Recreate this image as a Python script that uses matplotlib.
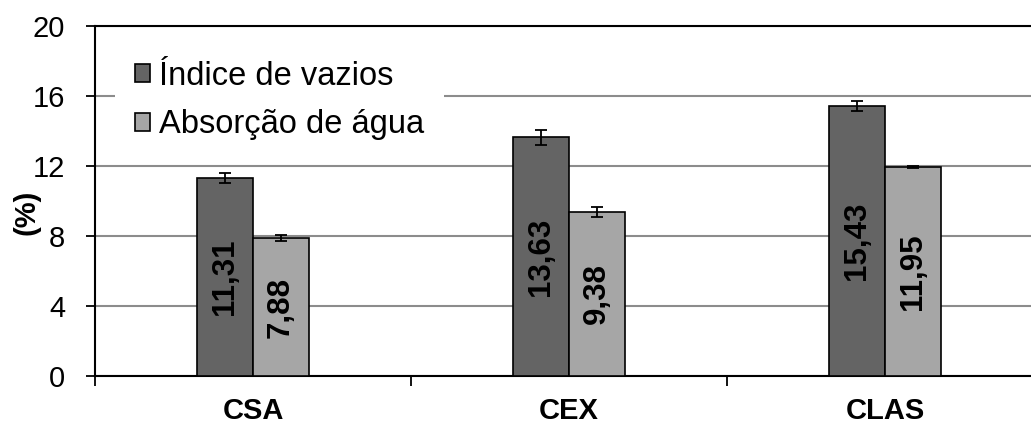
import matplotlib
matplotlib.use("Agg")
import matplotlib.pyplot as plt
import numpy as np

plt.rcParams['font.family'] = ['Liberation Sans', 'DejaVu Sans']

# data
grupos = ['CSA', 'CEX', 'CLAS']
indice_vazios = [11.31, 13.63, 15.43]
indice_err = [0.30, 0.45, 0.30]
absorcao = [7.88, 9.38, 11.95]
absorcao_err = [0.15, 0.30, 0.05]
rotulos_iv = ['11,31', '13,63', '15,43']
rotulos_ab = ['7,88', '9,38', '11,95']
yticks = [0, 4, 8, 12, 16, 20]

fig = plt.figure(figsize=(10.31, 4.26), dpi=100, facecolor='w')
ax = fig.add_axes([95/1031, 50/426, 948/1031, 350/426])

x = np.arange(len(grupos))
w = 0.177

ax.bar(x - w/2, indice_vazios, w, color='#646464', edgecolor='black', linewidth=1.2,
       label='Índice de vazios', zorder=3)
ax.bar(x + w/2, absorcao, w, color='#a6a6a6', edgecolor='black', linewidth=1.2,
       label='Absorção de água', zorder=3)
ax.errorbar(x - w/2, indice_vazios, yerr=indice_err, fmt='none', ecolor='black',
            elinewidth=1.3, capsize=4.2, capthick=1.3, zorder=4)
ax.errorbar(x + w/2, absorcao, yerr=absorcao_err, fmt='none', ecolor='black',
            elinewidth=1.3, capsize=4.2, capthick=1.3, zorder=4)

for xi, v, t in zip(x - w/2, indice_vazios, rotulos_iv):
    ax.text(xi, v/2, t, rotation=90, ha='center', va='center', fontsize=22.5,
            fontweight='bold', zorder=5)
for xi, v, t in zip(x + w/2, absorcao, rotulos_ab):
    ax.text(xi, v/2, t, rotation=90, ha='center', va='center', fontsize=22.5,
            fontweight='bold', zorder=5)

ax.set_xlim(-0.5, 2.5)
ax.set_ylim(0, 20)
ax.set_yticks(yticks)
ax.tick_params(axis='y', labelsize=21, direction='out', length=6.5, width=1.3, pad=15)
ax.set_xticks([-0.5, 0.5, 1.5, 2.5])
ax.set_xticklabels([])
ax.set_xticks(x, minor=True)
ax.set_xticklabels(grupos, minor=True, fontsize=21, fontweight='bold')
ax.tick_params(axis='x', which='minor', length=0, pad=15)
ax.tick_params(axis='x', which='major', direction='out', length=7, width=1.3)
ax.yaxis.grid(True, color='#8c8c8c', linewidth=1.5, zorder=0)
ax.set_axisbelow(True)
for s in ['left', 'bottom', 'top']:
    ax.spines[s].set_linewidth(1.5)
ax.spines['right'].set_visible(False)
ax.set_ylabel('(%)', fontsize=21, fontweight='bold')
ax.yaxis.set_label_coords(-0.057, 0.469)

leg = ax.legend(loc='upper left', bbox_to_anchor=(115/1031, 1 - 41/426),
                bbox_transform=fig.transFigure, borderaxespad=0, fontsize=23.5,
                frameon=True, facecolor='white', edgecolor='none', framealpha=1,
                fancybox=False, handlelength=0.48, handleheight=0.48,
                handletextpad=0.28, labelspacing=0.54, borderpad=0.6)
leg.set_zorder(2)

fig.savefig('out.png', dpi=100)
